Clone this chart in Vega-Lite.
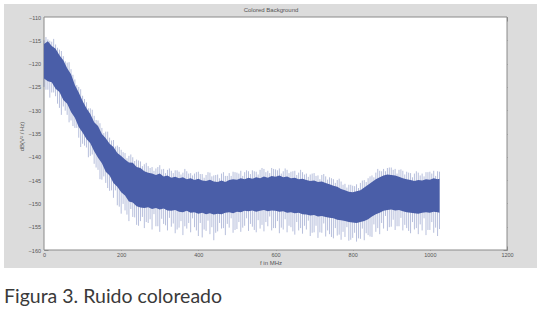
{
  "$schema": "https://vega.github.io/schema/vega-lite/v6.json",
  "width": 533,
  "height": 264,
  "autosize": {"type": "none"},
  "padding": {"left": 4, "top": 4, "right": 0, "bottom": 50},
  "background": "white",
  "title": {
    "text": "Figura 3. Ruido coloreado",
    "orient": "bottom",
    "anchor": "start",
    "frame": "group",
    "font": "Lato",
    "fontSize": 19.5,
    "fontWeight": "normal",
    "color": "#3a3a3a",
    "offset": 20
  },
  "config": {
    "view": {"fill": "#dcdcdc", "stroke": null},
    "axis": {
      "grid": false,
      "domain": false,
      "labelFont": "Liberation Sans",
      "titleFont": "Liberation Sans",
      "labelFontSize": 5.5,
      "titleFontSize": 6,
      "labelColor": "#555555",
      "titleColor": "#555555",
      "titleFontWeight": "normal",
      "tickColor": "#888888",
      "tickSize": -4
    }
  },
  "datasets": {
    "frame": [{"x0": 0, "x1": 1200, "y0": -160, "y1": -110}],
    "psd": [
      {"f": 0, "hi": -115.8, "lo": -123.2, "mx": -115.0, "mn": -125.0},
      {"f": 10, "hi": -115.2, "lo": -123.8, "mx": -114.8, "mn": -125.6},
      {"f": 20, "hi": -116.2, "lo": -124.0, "mx": -115.3, "mn": -126.2},
      {"f": 30, "hi": -116.8, "lo": -125.4, "mx": -115.9, "mn": -127.0},
      {"f": 40, "hi": -118.2, "lo": -126.1, "mx": -117.0, "mn": -129.5},
      {"f": 50, "hi": -119.3, "lo": -127.8, "mx": -118.4, "mn": -129.2},
      {"f": 60, "hi": -121.0, "lo": -128.6, "mx": -119.8, "mn": -131.0},
      {"f": 70, "hi": -122.3, "lo": -130.4, "mx": -121.2, "mn": -132.2},
      {"f": 80, "hi": -124.6, "lo": -131.6, "mx": -123.4, "mn": -133.8},
      {"f": 90, "hi": -126.2, "lo": -133.6, "mx": -125.0, "mn": -135.9},
      {"f": 100, "hi": -128.0, "lo": -134.8, "mx": -126.9, "mn": -137.2},
      {"f": 110, "hi": -129.6, "lo": -136.2, "mx": -128.3, "mn": -138.0},
      {"f": 120, "hi": -130.8, "lo": -137.1, "mx": -129.6, "mn": -139.8},
      {"f": 130, "hi": -132.6, "lo": -138.8, "mx": -131.2, "mn": -141.5},
      {"f": 140, "hi": -133.4, "lo": -140.2, "mx": -132.2, "mn": -142.8},
      {"f": 150, "hi": -135.1, "lo": -141.4, "mx": -133.8, "mn": -144.9},
      {"f": 160, "hi": -136.0, "lo": -143.2, "mx": -134.6, "mn": -145.6},
      {"f": 170, "hi": -137.2, "lo": -144.0, "mx": -135.9, "mn": -147.3},
      {"f": 180, "hi": -137.9, "lo": -145.6, "mx": -136.4, "mn": -148.8},
      {"f": 190, "hi": -139.2, "lo": -146.4, "mx": -137.6, "mn": -150.4},
      {"f": 200, "hi": -139.8, "lo": -147.6, "mx": -138.5, "mn": -152.2},
      {"f": 210, "hi": -140.6, "lo": -148.3, "mx": -139.2, "mn": -151.5},
      {"f": 220, "hi": -141.2, "lo": -149.6, "mx": -139.8, "mn": -153.8},
      {"f": 230, "hi": -141.3, "lo": -149.8, "mx": -140.1, "mn": -152.9},
      {"f": 240, "hi": -142.2, "lo": -150.6, "mx": -140.6, "mn": -154.6},
      {"f": 250, "hi": -142.4, "lo": -150.9, "mx": -141.0, "mn": -153.8},
      {"f": 260, "hi": -143.1, "lo": -151.0, "mx": -141.6, "mn": -155.3},
      {"f": 270, "hi": -143.4, "lo": -150.8, "mx": -142.0, "mn": -154.2},
      {"f": 280, "hi": -143.6, "lo": -151.2, "mx": -142.2, "mn": -155.6},
      {"f": 290, "hi": -143.9, "lo": -151.0, "mx": -142.5, "mn": -154.9},
      {"f": 300, "hi": -143.6, "lo": -151.3, "mx": -141.8, "mn": -156.1},
      {"f": 310, "hi": -144.2, "lo": -151.1, "mx": -142.6, "mn": -154.4},
      {"f": 320, "hi": -144.0, "lo": -151.5, "mx": -142.8, "mn": -155.8},
      {"f": 330, "hi": -144.5, "lo": -151.6, "mx": -143.0, "mn": -155.0},
      {"f": 340, "hi": -144.3, "lo": -151.4, "mx": -142.9, "mn": -156.4},
      {"f": 350, "hi": -144.6, "lo": -151.8, "mx": -143.2, "mn": -155.2},
      {"f": 360, "hi": -144.4, "lo": -151.9, "mx": -143.4, "mn": -156.8},
      {"f": 370, "hi": -144.8, "lo": -151.6, "mx": -143.1, "mn": -155.4},
      {"f": 380, "hi": -144.6, "lo": -152.0, "mx": -143.5, "mn": -156.2},
      {"f": 390, "hi": -145.0, "lo": -151.9, "mx": -143.6, "mn": -155.1},
      {"f": 400, "hi": -144.7, "lo": -152.2, "mx": -143.2, "mn": -157.0},
      {"f": 410, "hi": -145.1, "lo": -152.0, "mx": -143.7, "mn": -157.3},
      {"f": 420, "hi": -145.2, "lo": -152.3, "mx": -143.9, "mn": -155.9},
      {"f": 430, "hi": -144.9, "lo": -152.1, "mx": -143.4, "mn": -156.6},
      {"f": 440, "hi": -145.3, "lo": -152.4, "mx": -144.0, "mn": -157.9},
      {"f": 450, "hi": -145.4, "lo": -152.2, "mx": -143.8, "mn": -156.0},
      {"f": 460, "hi": -145.1, "lo": -152.3, "mx": -143.6, "mn": -155.4},
      {"f": 470, "hi": -145.4, "lo": -152.0, "mx": -144.1, "mn": -156.8},
      {"f": 480, "hi": -145.0, "lo": -151.9, "mx": -143.5, "mn": -155.2},
      {"f": 490, "hi": -144.8, "lo": -152.1, "mx": -143.2, "mn": -156.3},
      {"f": 500, "hi": -144.9, "lo": -151.8, "mx": -143.4, "mn": -155.5},
      {"f": 510, "hi": -144.6, "lo": -151.9, "mx": -143.0, "mn": -156.1},
      {"f": 520, "hi": -144.8, "lo": -151.6, "mx": -143.3, "mn": -154.8},
      {"f": 530, "hi": -144.5, "lo": -151.7, "mx": -143.1, "mn": -155.9},
      {"f": 540, "hi": -144.7, "lo": -151.5, "mx": -142.9, "mn": -155.0},
      {"f": 550, "hi": -144.4, "lo": -151.8, "mx": -143.2, "mn": -156.2},
      {"f": 560, "hi": -144.6, "lo": -151.6, "mx": -142.8, "mn": -155.4},
      {"f": 570, "hi": -144.2, "lo": -151.4, "mx": -142.6, "mn": -156.0},
      {"f": 580, "hi": -144.5, "lo": -151.7, "mx": -143.0, "mn": -154.9},
      {"f": 590, "hi": -144.1, "lo": -151.5, "mx": -142.4, "mn": -155.8},
      {"f": 600, "hi": -144.3, "lo": -151.6, "mx": -142.7, "mn": -155.3},
      {"f": 610, "hi": -144.0, "lo": -151.8, "mx": -142.5, "mn": -156.4},
      {"f": 620, "hi": -144.4, "lo": -151.7, "mx": -143.1, "mn": -155.6},
      {"f": 630, "hi": -144.2, "lo": -152.0, "mx": -142.8, "mn": -156.2},
      {"f": 640, "hi": -144.6, "lo": -151.9, "mx": -143.2, "mn": -155.1},
      {"f": 650, "hi": -144.5, "lo": -152.1, "mx": -143.0, "mn": -156.7},
      {"f": 660, "hi": -144.8, "lo": -152.0, "mx": -143.4, "mn": -155.8},
      {"f": 670, "hi": -144.7, "lo": -152.3, "mx": -143.3, "mn": -156.5},
      {"f": 680, "hi": -145.0, "lo": -152.4, "mx": -143.6, "mn": -155.6},
      {"f": 690, "hi": -145.2, "lo": -152.6, "mx": -143.8, "mn": -157.0},
      {"f": 700, "hi": -145.1, "lo": -152.5, "mx": -143.5, "mn": -156.2},
      {"f": 710, "hi": -145.4, "lo": -152.8, "mx": -144.0, "mn": -157.4},
      {"f": 720, "hi": -145.3, "lo": -152.7, "mx": -143.9, "mn": -156.3},
      {"f": 730, "hi": -145.6, "lo": -152.9, "mx": -144.2, "mn": -157.1},
      {"f": 740, "hi": -145.9, "lo": -153.1, "mx": -144.4, "mn": -156.6},
      {"f": 750, "hi": -146.2, "lo": -153.2, "mx": -144.8, "mn": -157.5},
      {"f": 760, "hi": -146.4, "lo": -153.5, "mx": -145.0, "mn": -156.9},
      {"f": 770, "hi": -146.9, "lo": -153.6, "mx": -145.3, "mn": -157.8},
      {"f": 780, "hi": -147.2, "lo": -153.8, "mx": -145.8, "mn": -157.2},
      {"f": 790, "hi": -147.5, "lo": -154.0, "mx": -146.0, "mn": -158.0},
      {"f": 800, "hi": -147.6, "lo": -154.1, "mx": -146.2, "mn": -157.4},
      {"f": 810, "hi": -147.4, "lo": -154.2, "mx": -145.9, "mn": -158.2},
      {"f": 820, "hi": -147.2, "lo": -154.0, "mx": -145.6, "mn": -157.6},
      {"f": 830, "hi": -146.6, "lo": -153.8, "mx": -145.0, "mn": -157.9},
      {"f": 840, "hi": -146.0, "lo": -153.4, "mx": -144.6, "mn": -156.8},
      {"f": 850, "hi": -145.4, "lo": -152.8, "mx": -144.0, "mn": -157.2},
      {"f": 860, "hi": -144.8, "lo": -152.3, "mx": -143.4, "mn": -156.1},
      {"f": 870, "hi": -144.4, "lo": -152.0, "mx": -143.0, "mn": -156.6},
      {"f": 880, "hi": -144.0, "lo": -151.6, "mx": -142.6, "mn": -155.4},
      {"f": 890, "hi": -143.8, "lo": -151.4, "mx": -142.4, "mn": -155.9},
      {"f": 900, "hi": -143.9, "lo": -151.3, "mx": -142.3, "mn": -155.0},
      {"f": 910, "hi": -144.0, "lo": -151.5, "mx": -142.6, "mn": -155.7},
      {"f": 920, "hi": -144.3, "lo": -151.4, "mx": -142.8, "mn": -154.9},
      {"f": 930, "hi": -144.6, "lo": -151.7, "mx": -143.0, "mn": -155.8},
      {"f": 940, "hi": -144.8, "lo": -151.9, "mx": -143.2, "mn": -155.3},
      {"f": 950, "hi": -145.0, "lo": -152.0, "mx": -143.5, "mn": -156.4},
      {"f": 960, "hi": -145.2, "lo": -152.1, "mx": -143.6, "mn": -155.6},
      {"f": 970, "hi": -145.0, "lo": -152.2, "mx": -143.4, "mn": -156.6},
      {"f": 980, "hi": -145.1, "lo": -152.0, "mx": -143.6, "mn": -155.8},
      {"f": 990, "hi": -144.8, "lo": -151.9, "mx": -143.3, "mn": -156.8},
      {"f": 1000, "hi": -144.9, "lo": -152.0, "mx": -143.2, "mn": -155.7},
      {"f": 1010, "hi": -144.6, "lo": -151.8, "mx": -143.0, "mn": -156.3},
      {"f": 1020, "hi": -144.8, "lo": -151.9, "mx": -143.1, "mn": -157.0},
      {"f": 1025, "hi": -144.7, "lo": -152.0, "mx": -143.2, "mn": -155.5}
    ],
    "fuzz": [
      {"f": 5, "mx": -114.3, "mn": -125.6}, {"f": 15, "mx": -115.1, "mn": -127.3},
      {"f": 25, "mx": -114.7, "mn": -126.2}, {"f": 35, "mx": -116.6, "mn": -128.6},
      {"f": 45, "mx": -117.3, "mn": -131.0}, {"f": 55, "mx": -119.5, "mn": -130.1},
      {"f": 65, "mx": -119.7, "mn": -132.6}, {"f": 75, "mx": -122.4, "mn": -133.4},
      {"f": 85, "mx": -124.6, "mn": -133.8}, {"f": 95, "mx": -125.5, "mn": -137.9},
      {"f": 105, "mx": -127.6, "mn": -137.6}, {"f": 115, "mx": -129.6, "mn": -140.1},
      {"f": 125, "mx": -129.9, "mn": -139.5}, {"f": 135, "mx": -132.1, "mn": -142.3},
      {"f": 145, "mx": -132.8, "mn": -144.8}, {"f": 155, "mx": -134.9, "mn": -144.2},
      {"f": 165, "mx": -134.6, "mn": -146.7}, {"f": 175, "mx": -136.5, "mn": -147.2},
      {"f": 185, "mx": -137.8, "mn": -147.2}, {"f": 195, "mx": -137.9, "mn": -150.7},
      {"f": 205, "mx": -139.0, "mn": -150.1}, {"f": 215, "mx": -140.3, "mn": -152.4},
      {"f": 225, "mx": -139.5, "mn": -151.2}, {"f": 235, "mx": -140.9, "mn": -153.0},
      {"f": 245, "mx": -140.8, "mn": -154.8}, {"f": 255, "mx": -142.0, "mn": -152.9},
      {"f": 265, "mx": -141.3, "mn": -154.0}, {"f": 275, "mx": -142.4, "mn": -153.4},
      {"f": 285, "mx": -143.0, "mn": -152.3}, {"f": 295, "mx": -142.2, "mn": -154.9},
      {"f": 305, "mx": -142.7, "mn": -153.3}, {"f": 315, "mx": -143.5, "mn": -154.7},
      {"f": 325, "mx": -142.5, "mn": -153.1}, {"f": 335, "mx": -143.5, "mn": -154.3},
      {"f": 345, "mx": -142.9, "mn": -155.6}, {"f": 355, "mx": -143.8, "mn": -153.8},
      {"f": 365, "mx": -142.6, "mn": -154.9}, {"f": 375, "mx": -143.6, "mn": -154.2},
      {"f": 385, "mx": -144.0, "mn": -153.2}, {"f": 395, "mx": -143.3, "mn": -155.8},
      {"f": 405, "mx": -143.7, "mn": -154.2}, {"f": 415, "mx": -144.5, "mn": -155.6},
      {"f": 425, "mx": -143.3, "mn": -153.7}, {"f": 435, "mx": -144.2, "mn": -155.1},
      {"f": 445, "mx": -143.9, "mn": -156.3}, {"f": 455, "mx": -144.6, "mn": -154.2},
      {"f": 465, "mx": -143.3, "mn": -155.3}, {"f": 475, "mx": -144.1, "mn": -154.4},
      {"f": 485, "mx": -144.1, "mn": -153.2}, {"f": 495, "mx": -143.3, "mn": -155.7},
      {"f": 505, "mx": -143.6, "mn": -154.0}, {"f": 515, "mx": -144.1, "mn": -155.2},
      {"f": 525, "mx": -142.9, "mn": -153.2}, {"f": 535, "mx": -143.7, "mn": -154.4},
      {"f": 545, "mx": -143.1, "mn": -155.7}, {"f": 555, "mx": -143.8, "mn": -153.6},
      {"f": 565, "mx": -142.4, "mn": -154.6}, {"f": 575, "mx": -143.3, "mn": -154.0},
      {"f": 585, "mx": -143.5, "mn": -152.8}, {"f": 595, "mx": -142.6, "mn": -155.3},
      {"f": 605, "mx": -142.9, "mn": -153.8}, {"f": 615, "mx": -143.6, "mn": -155.2},
      {"f": 625, "mx": -142.5, "mn": -153.4}, {"f": 635, "mx": -143.5, "mn": -154.8},
      {"f": 645, "mx": -143.1, "mn": -156.0}, {"f": 655, "mx": -143.9, "mn": -154.0},
      {"f": 665, "mx": -142.8, "mn": -155.3}, {"f": 675, "mx": -143.8, "mn": -154.8},
      {"f": 685, "mx": -144.3, "mn": -153.7}, {"f": 695, "mx": -143.6, "mn": -156.3},
      {"f": 705, "mx": -144.1, "mn": -154.8}, {"f": 715, "mx": -144.8, "mn": -156.2},
      {"f": 725, "mx": -143.7, "mn": -154.3}, {"f": 735, "mx": -144.9, "mn": -155.8},
      {"f": 745, "mx": -144.6, "mn": -157.2}, {"f": 755, "mx": -145.6, "mn": -155.3},
      {"f": 765, "mx": -144.7, "mn": -156.7}, {"f": 775, "mx": -146.0, "mn": -156.1},
      {"f": 785, "mx": -146.6, "mn": -155.1}, {"f": 795, "mx": -146.0, "mn": -157.8},
      {"f": 805, "mx": -146.3, "mn": -156.3}, {"f": 815, "mx": -146.7, "mn": -157.5},
      {"f": 825, "mx": -145.1, "mn": -155.4}, {"f": 835, "mx": -145.4, "mn": -156.4},
      {"f": 845, "mx": -144.2, "mn": -157.1}, {"f": 855, "mx": -144.4, "mn": -154.5},
      {"f": 865, "mx": -142.6, "mn": -155.3}, {"f": 875, "mx": -143.1, "mn": -154.2},
      {"f": 885, "mx": -143.1, "mn": -152.7}, {"f": 895, "mx": -142.3, "mn": -155.1},
      {"f": 905, "mx": -142.8, "mn": -153.5}, {"f": 915, "mx": -143.6, "mn": -154.9},
      {"f": 925, "mx": -142.7, "mn": -153.1}, {"f": 935, "mx": -143.8, "mn": -154.6},
      {"f": 945, "mx": -143.4, "mn": -155.9}, {"f": 955, "mx": -144.4, "mn": -154.0},
      {"f": 965, "mx": -143.1, "mn": -155.3}, {"f": 975, "mx": -144.0, "mn": -154.5},
      {"f": 985, "mx": -144.2, "mn": -153.2}, {"f": 995, "mx": -143.3, "mn": -155.7},
      {"f": 1005, "mx": -143.6, "mn": -154.0}, {"f": 1015, "mx": -144.1, "mn": -155.2}
    ]
  },
  "layer": [
    {
      "data": {"name": "frame"},
      "mark": {"type": "rect", "fill": "white", "stroke": "#8a8a8a", "strokeWidth": 1},
      "encoding": {
        "x": {
          "field": "x0", "type": "quantitative",
          "scale": {"domain": [-103.7, 1277.7], "nice": false, "zero": false},
          "axis": {"orient": "bottom", "offset": -18, "values": [0, 200, 400, 600, 800, 1000, 1200], "format": "d", "labelPadding": 6.5, "title": "f in MHz", "titlePadding": 1}
        },
        "x2": {"field": "x1"},
        "y": {
          "field": "y0", "type": "quantitative",
          "scale": {"domain": [-163.86, -107.21], "nice": false, "zero": false},
          "axis": {"orient": "left", "offset": -40, "values": [-160, -155, -150, -145, -140, -135, -130, -125, -120, -115, -110], "labelPadding": 7.5, "title": "dB(V² / Hz)", "titlePadding": 4}
        },
        "y2": {"field": "y1"}
      }
    },
    {
      "data": {"name": "psd"},
      "mark": {"type": "rule", "color": "#4a5ea8", "opacity": 0.4, "strokeWidth": 1},
      "encoding": {
        "x": {"field": "f", "type": "quantitative", "axis": {"orient": "top", "offset": -13, "values": [0, 200, 400, 600, 800, 1000, 1200], "labels": false, "title": "Colored Background", "titlePadding": 4}},
        "y": {"field": "mn", "type": "quantitative", "axis": {"orient": "right", "offset": -30, "values": [-160, -155, -150, -145, -140, -135, -130, -125, -120, -115, -110], "labels": false, "title": null}},
        "y2": {"field": "mx"}
      }
    },
    {
      "data": {"name": "fuzz"},
      "mark": {"type": "rule", "color": "#4a5ea8", "opacity": 0.4, "strokeWidth": 1},
      "encoding": {
        "x": {"field": "f", "type": "quantitative", "axis": null},
        "y": {"field": "mn", "type": "quantitative", "axis": null},
        "y2": {"field": "mx"}
      }
    },
    {
      "data": {"name": "psd"},
      "mark": {"type": "area", "color": "#4a5ea8", "opacity": 1},
      "encoding": {
        "x": {"field": "f", "type": "quantitative", "axis": null},
        "y": {"field": "lo", "type": "quantitative", "axis": null},
        "y2": {"field": "hi"}
      }
    }
  ],
  "resolve": {"axis": {"x": "independent", "y": "independent"}}
}
